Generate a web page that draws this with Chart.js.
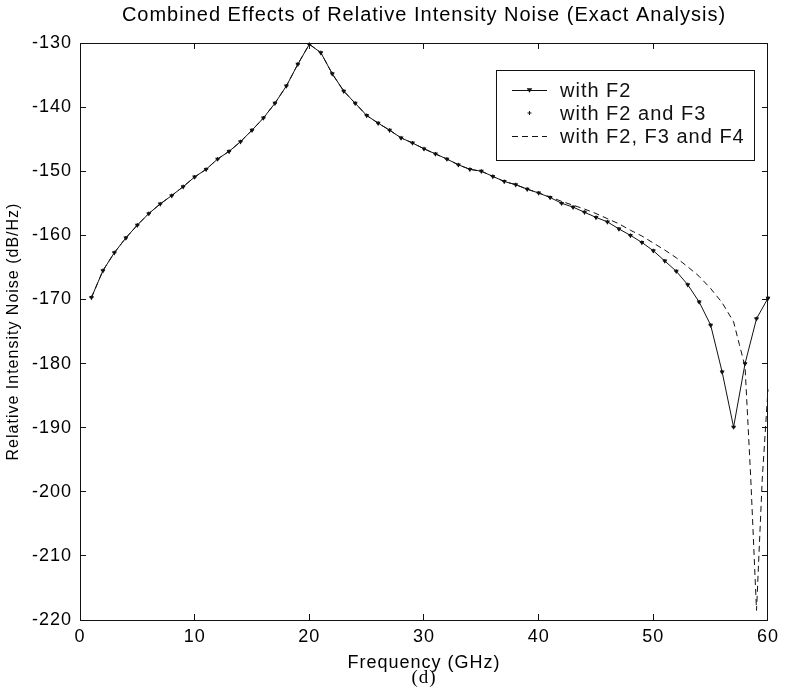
<!DOCTYPE html>
<html>
<head>
<meta charset="utf-8">
<title>Combined Effects of Relative Intensity Noise</title>
<script src="https://cdn.jsdelivr.net/npm/chart.js@4.4.1/dist/chart.umd.min.js"></script>
<style>
  html, body { margin: 0; padding: 0; background: #fff; }
  canvas { display: block; }
</style>
</head>
<body>
<canvas id="rin" width="791" height="689"></canvas>
<script>
// frequency grid of the marked curves (GHz)
const freq = [1, 2, 3, 4, 5, 6, 7, 8, 9, 10,
              11, 12, 13, 14, 15, 16, 17, 18, 19, 20,
              21, 22, 23, 24, 25, 26, 27, 28, 29, 30,
              31, 32, 33, 34, 35, 36, 37, 38, 39, 40,
              41, 42, 43, 44, 45, 46, 47, 48, 49, 50,
              51, 52, 53, 54, 55, 56, 57, 58, 59, 60];

// RIN with F2 (dB/Hz)
const withF2 = [-169.7, -165.5, -162.7, -160.4, -158.4, -156.6, -155.1, -153.8, -152.4, -150.9,
                -149.7, -148.1, -146.9, -145.4, -143.6, -141.7, -139.4, -136.7, -133.3, -130.2,
                -131.5, -134.8, -137.5, -139.4, -141.3, -142.5, -143.6, -144.8, -145.6, -146.5,
                -147.3, -148.1, -149.0, -149.7, -150.0, -150.8, -151.6, -152.1, -152.8, -153.4,
                -154.1, -155.0, -155.6, -156.4, -157.2, -157.9, -159.0, -160.0, -161.1, -162.4,
                -164.0, -165.6, -167.7, -170.4, -174.0, -181.3, -189.9, -180.0, -173.0, -169.8];

// with F2 and F3 (points sit on the F2 curve)
const withF2F3 = [-169.7, -165.5, -162.7, -160.4, -158.4, -156.6, -155.1, -153.8, -152.4, -150.9,
                  -149.7, -148.1, -146.9, -145.4, -143.6, -141.7, -139.4, -136.7, -133.3, -130.2,
                  -131.5, -134.8, -137.5, -139.4, -141.3, -142.5, -143.6, -144.8, -145.6, -146.5,
                  -147.3, -148.1, -149.0, -149.7, -150.0, -150.8, -151.6, -152.1, -152.8, -153.4,
                  -154.1, -155.0, -155.6, -156.4, -157.2, -157.9, -159.0, -160.0, -161.1, -162.4,
                  -164.0, -165.6, -167.7, -170.4, -174.0, -181.3, -189.9, -180.0, -173.0, -169.8];

// with F2, F3 and F4 (dashed)
const freqF4 = [1, 2, 3, 4, 5, 6, 7, 8, 9, 10,
                11, 12, 13, 14, 15, 16, 17, 18, 19, 20,
                21, 22, 23, 24, 25, 26, 27, 28, 29, 30,
                31, 32, 33, 34, 35, 36, 37, 38, 39, 40,
                41, 42, 43, 44, 45, 46, 47, 48, 49, 50,
                51, 52, 53, 54, 55, 56, 57, 57.5, 58, 58.5, 59, 59.5, 60];
const withF4 = [-169.7, -165.5, -162.7, -160.4, -158.4, -156.6, -155.1, -153.8, -152.4, -150.9,
                -149.7, -148.1, -146.9, -145.4, -143.6, -141.7, -139.4, -136.7, -133.3, -130.2,
                -131.5, -134.8, -137.5, -139.4, -141.3, -142.5, -143.6, -144.8, -145.6, -146.5,
                -147.3, -148.1, -149.0, -149.7, -150.0, -150.8, -151.6, -152.1, -152.8, -153.4,
                -154.0, -154.7, -155.3, -155.9, -156.6, -157.4, -158.2, -159.2, -160.1, -161.2,
                -162.3, -163.5, -164.9, -166.4, -168.3, -170.5, -173.5, -177.0, -180.5, -198.0, -218.5, -198.0, -184.0];

const xTicks = [0, 10, 20, 30, 40, 50, 60];
const yTicks = [-220, -210, -200, -190, -180, -170, -160, -150, -140, -130];

const sans = 'Liberation Sans, Arial, Helvetica, sans-serif';
const ink = '#111';

function pts(xs, ys) {
    return xs.map((x, i) => ({x: x, y: ys[i]}));
}

// matlab style box: inward ticks, no grid
function frameAxis(pos, ticks, extra) {
    return Object.assign({
        type: 'linear',
        position: pos,
        min: ticks[0],
        max: ticks[ticks.length - 1],
        afterBuildTicks: s => { s.ticks = ticks.map(v => ({value: v})); },
        grid: { drawOnChartArea: false, drawTicks: true, tickLength: -6, color: ink, lineWidth: 1 },
        border: { display: true, color: ink, width: 1 },
        ticks: { display: false }
    }, extra);
}

const spacing = {
    id: 'spacing',
    beforeLayout(chart) { chart.ctx.letterSpacing = '1px'; },
    beforeDraw(chart) { chart.ctx.letterSpacing = '1px'; }
};

function marker(ctx, style, x, y, r) {
    ctx.beginPath();
    if (style === 'triangle') {
        ctx.moveTo(x - r, y - r * 0.6);
        ctx.lineTo(x + r, y - r * 0.6);
        ctx.lineTo(x, y + r);
        ctx.closePath();
        ctx.fill();
    } else {
        ctx.moveTo(x - r, y); ctx.lineTo(x + r, y);
        ctx.moveTo(x, y - r); ctx.lineTo(x, y + r);
        ctx.stroke();
    }
}

const boxLegend = {
    id: 'boxLegend',
    afterDraw(chart) {
        const {ctx, chartArea} = chart;
        const left = chartArea.right - 272, top = chartArea.top + 27;
        const w = 258, h = 90;
        ctx.save();
        ctx.letterSpacing = '1px';
        ctx.fillStyle = '#fff';
        ctx.fillRect(left, top, w, h);
        ctx.strokeStyle = ink;
        ctx.lineWidth = 1;
        ctx.strokeRect(left + 0.5, top + 0.5, w, h);
        ctx.font = '20px ' + sans;
        ctx.textBaseline = 'middle';
        chart.data.datasets.forEach((ds, i) => {
            const y = top + 20 + i * 23;
            const x0 = left + 16, x1 = left + 51;
            ctx.strokeStyle = ink;
            ctx.fillStyle = ink;
            if (ds.showLine !== false) {
                ctx.setLineDash(ds.borderDash || []);
                ctx.beginPath();
                ctx.moveTo(x0, y + 0.5);
                ctx.lineTo(x1, y + 0.5);
                ctx.stroke();
                ctx.setLineDash([]);
            }
            if (ds.pointRadius > 0) marker(ctx, ds.pointStyle, (x0 + x1) / 2, y, ds.pointRadius);
            ctx.fillText(ds.label, left + 64, y + 1);
        });
        ctx.restore();
    }
};

new Chart(document.getElementById('rin'), {
    type: 'line',
    data: {
        datasets: [
            {
                label: 'with F2',
                data: pts(freq, withF2),
                borderColor: ink, backgroundColor: ink, borderWidth: 1,
                pointStyle: 'triangle', rotation: 180, pointRadius: 2.8,
                pointBorderWidth: 0, clip: false, order: 1
            },
            {
                label: 'with F2 and F3',
                data: pts(freq, withF2F3),
                showLine: false,
                borderColor: ink, backgroundColor: ink,
                pointStyle: 'cross', pointRadius: 2, pointBorderWidth: 1,
                clip: false, order: 0
            },
            {
                label: 'with F2, F3 and F4',
                data: pts(freqF4, withF4),
                borderColor: ink, borderWidth: 1, borderDash: [6, 4],
                pointRadius: 0, clip: false, order: 2
            }
        ]
    },
    options: {
        responsive: false,
        animation: false,
        devicePixelRatio: 1,
        events: [],
        layout: { padding: 0 },
        plugins: { legend: { display: false }, tooltip: { enabled: false } },
        scales: {
            x: frameAxis('bottom', xTicks, {
                afterFit: s => { s.height = 54; },
                ticks: { display: true, color: '#000', font: { family: sans, size: 18 }, padding: 12, maxRotation: 0 },
                title: { display: true, text: 'Frequency (GHz)', color: '#000',
                         font: { family: sans, size: 18 }, padding: { top: 0, bottom: 0 } }
            }),
            xTop: frameAxis('top', xTicks, {
                afterFit: s => { s.height = 43; },
                title: { display: true, text: 'Combined Effects of Relative Intensity Noise (Exact Analysis)',
                         color: '#000', font: { family: sans, size: 20 }, padding: { top: 3, bottom: 0 } }
            }),
            xCap: {
                type: 'linear', position: 'bottom', weight: 1, min: 0, max: 60,
                afterFit: s => { s.height = 15; },
                grid: { display: false }, border: { display: false }, ticks: { display: false },
                title: { display: true, text: '(d)', color: '#000',
                         font: { family: 'Liberation Serif, Times New Roman, serif', size: 19 }, padding: 0 }
            },
            y: frameAxis('left', yTicks, {
                afterFit: s => { s.width = 80; },
                ticks: { display: true, color: '#000', font: { family: sans, size: 18 }, padding: 14 },
                title: { display: true, text: 'Relative Intensity Noise (dB/Hz)', color: '#000',
                         font: { family: sans, size: 16 }, padding: { top: 4, bottom: 0 } }
            }),
            yRight: frameAxis('right', yTicks, {
                afterFit: s => { s.width = 16; }
            })
        }
    },
    plugins: [spacing, boxLegend]
});
</script>
</body>
</html>
